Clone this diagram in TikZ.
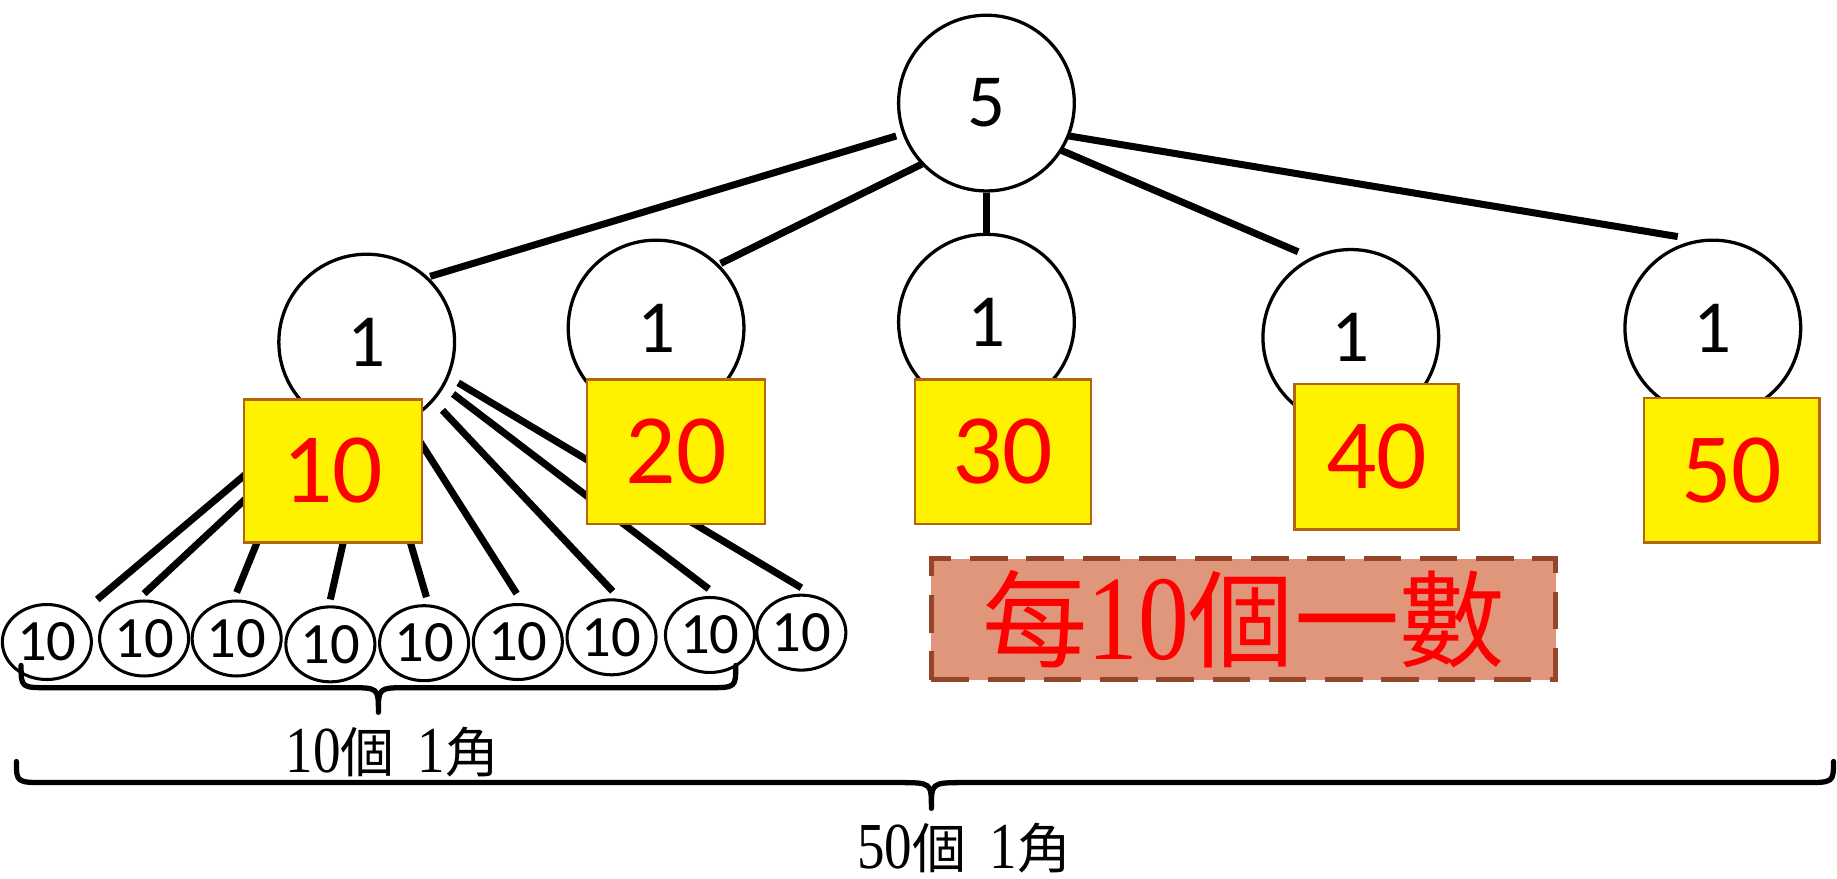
\documentclass[tikz,border=0pt]{standalone}
\usepackage{fontspec}
\usepackage{graphicx}
\usetikzlibrary{shapes.geometric,calc}
\setmainfont{Carlito}
\newfontfamily\cjk{Noto Sans CJK TC}
\newfontfamily\ser{Liberation Serif}
\newcommand\dg[2]{{\ser\fontsize{#1}{#1}\selectfont\scalebox{0.84}[1]{#2}}}
\definecolor{boxbrown}{HTML}{B4650E}
\definecolor{salmon}{HTML}{E0967A}
\definecolor{rbrown}{HTML}{95452A}
\begin{document}
\begin{tikzpicture}[x=1pt,y=1pt,
  bigc/.style={circle, draw, line width=2.8pt, fill=white, minimum size=150pt, inner sep=0pt, font=\fontsize{64}{64}\selectfont},
  ybox/.style={rectangle, draw=boxbrown, line width=2pt, fill=yellow, inner sep=0pt, text=red, font=\fontsize{85}{85}\selectfont},
  smallc/.style={ellipse, draw, line width=2.6pt, fill=white, minimum width=76pt, minimum height=64pt, inner sep=0pt, font=\fontsize{50}{50}\selectfont},
  conn/.style={line width=6pt},
  bracepath/.style={line width=4.5pt, line cap=round, line join=round},
  lab/.style={inner sep=0pt, anchor=base, font=\fontsize{46}{46}\selectfont\cjk}
]
\useasboundingbox (0,0) rectangle (1568,750);

% level circles
\node[bigc] (T) at (842,662) {5};
\node[bigc] (A) at (313,458) {1};
\node[bigc] (B) at (560,470) {1};
\node[bigc] (C) at (842,475) {1};
\node[bigc] (D) at (1153,462) {1};
\node[bigc] (E) at (1462,470) {1};

% small circles
\node[smallc] (s1) at (40,202) {10};
\node[smallc] (s2) at (123,205) {10};
\node[smallc] (s3) at (202,205) {10};
\node[smallc] (s4) at (282,200) {10};
\node[smallc] (s5) at (362,201) {10};
\node[smallc] (s6) at (442,202) {10};
\node[smallc] (s7) at (522,206) {10};
\node[smallc] (s8) at (606,208) {10};
\node[smallc] (s9) at (684,210) {10};

% connectors from top
\draw[conn] ($(T)+(200:82)$) -- ($(A)+(46:78)$);
\draw[conn] ($(T)+(223.4:75.7)$) -- ($(B)+(45:78)$);
\draw[conn] (T.south) -- (C.north);
\draw[conn] ($(T)+(-32.4:74.6)$) -- ($(D)+(121.6:85.8)$);
\draw[conn] ($(T)+(-21.8:75.4)$) -- ($(E)+(111:83.6)$);

% connectors to small circles
\draw[conn] (A.-125) -- ($(s1.north)+(43,3)$);
\draw[conn] (A.-116) -- ($(s2.north)+(0,5)$);
\draw[conn] (A.-129) -- ($(s3.north)+(0,6)$);
\draw[conn] (A.-89) -- ($(s4.north)+(0,5)$);
\draw[conn] (A.-83) -- ($(s5.north)+(2,6)$);
\draw[conn] (A.-63) -- ($(s6.north)+(-1,8)$);
\draw[conn] ($(A)+(-42:87)$) -- ($(s7.north)+(1,6)$);
\draw[conn] ($(A)+(-31:86)$) -- ($(s8.north)+(-1,6)$);
\draw[conn] ($(A)+(-24:85.5)$) -- ($(s9.north)+(0,5)$);

% yellow boxes
\node[ybox, minimum width=152pt, minimum height=122pt] (b10) at (284,348) {10};
\node[ybox, minimum width=152pt, minimum height=123pt] (b20) at (577,364.5) {20};
\node[ybox, minimum width=150pt, minimum height=123pt] (b30) at (856,364.5) {30};
\node[ybox, minimum width=140pt, minimum height=124pt] (b40) at (1175,360) {40};
\node[ybox, minimum width=150pt, minimum height=123pt] (b50) at (1478,348.5) {50};

% red dashed box
\node[draw=rbrown, fill=salmon, line width=4.5pt, dash pattern=on 32pt off 16pt,
      minimum width=533pt, minimum height=103pt, inner sep=0pt, text=red,
      font=\fontsize{90}{90}\selectfont\cjk] (rb) at (1061.5,221.5)
      {每\dg{103}{10}個一數};

% braces
\draw[bracepath] (18,182) .. controls (18,163) .. (42,163) -- (298,163)
  .. controls (323,163) .. (323,142) .. controls (323,163) .. (348,163)
  -- (604,163) .. controls (628,163) .. (628,182);
\draw[bracepath] (14,100) .. controls (14,82) .. (40,82) -- (767,82)
  .. controls (795,82) .. (795,60) .. controls (795,82) .. (823,82)
  -- (1539,82) .. controls (1565,82) .. (1565,100);

% labels
\node[lab] (t10) at (335,91) {\dg{56}{10}個\hspace{20pt}\dg{56}{1}角};
\node[lab] (t50) at (823,9) {\dg{56}{50}個\hspace{20pt}\dg{56}{1}角};
\end{tikzpicture}
\end{document}
